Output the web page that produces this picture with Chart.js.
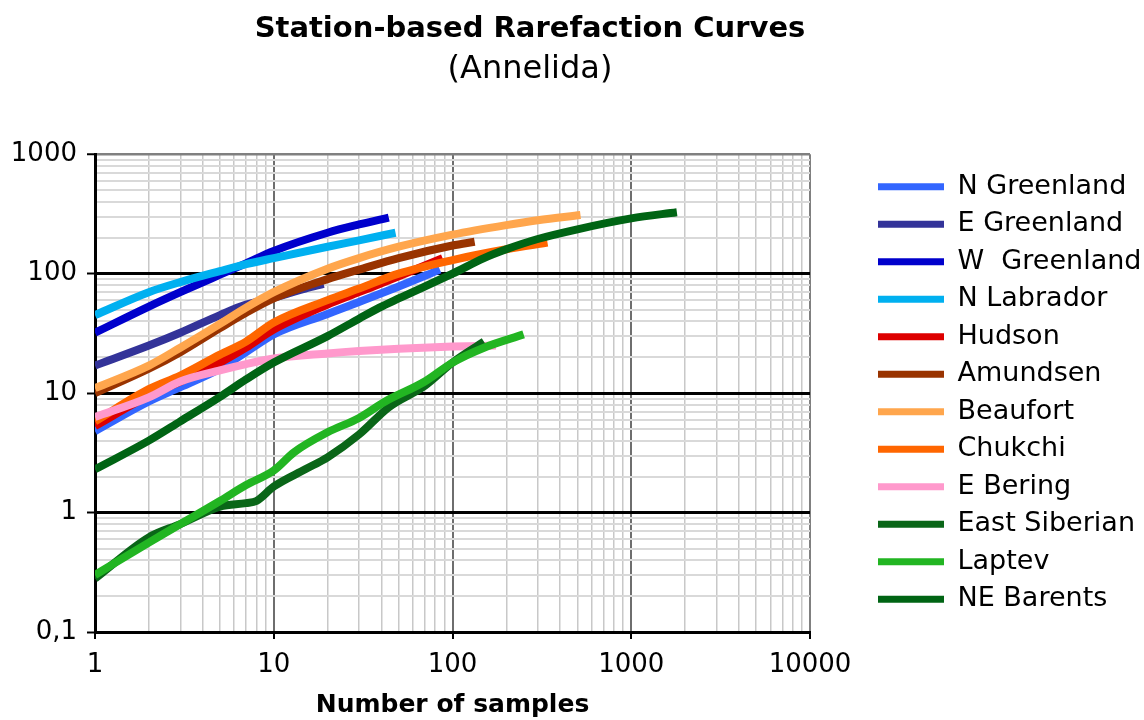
<!DOCTYPE html>
<html>
<head>
<meta charset="utf-8">
<title>Station-based Rarefaction Curves</title>
<script src="https://cdn.jsdelivr.net/npm/chart.js@4/dist/chart.umd.min.js"></script>
<style>
  html, body { margin: 0; padding: 0; background: #fff; }
  canvas { display: block; }
</style>
</head>
<body>
<canvas id="chart" width="1144" height="720"></canvas>
<script>
// series (number of samples -> species)
const nGreenlandX = [1, 2, 3, 5, 7, 10, 20, 30, 50, 85];
const nGreenlandY = [4.8, 8.5, 11.2, 16, 22, 31, 46, 58, 78, 108];
const eGreenlandX = [1, 2, 3, 5, 7, 10, 15, 19];
const eGreenlandY = [17, 25, 32, 45, 55, 63, 75, 82];
const wGreenlandX = [1, 2, 3, 5, 7, 10, 20, 30, 44];
const wGreenlandY = [32, 53, 70, 98, 122, 155, 220, 258, 295];
const nLabradorX = [1, 2, 3, 5, 7, 10, 20, 30, 48];
const nLabradorY = [45, 70, 85, 105, 120, 135, 168, 190, 220];
const hudsonX = [1, 2, 3, 5, 7, 10, 20, 30, 50, 88];
const hudsonY = [5.3, 9.5, 12.5, 18, 24, 34, 55, 70, 95, 135];
const amundsenX = [1, 2, 3, 5, 7, 10, 20, 30, 50, 100, 133];
const amundsenY = [10, 16, 22, 35, 47, 62, 90, 108, 135, 172, 185];
const beaufortX = [1, 2, 3, 5, 7, 10, 20, 30, 50, 100, 200, 300, 520];
const beaufortY = [11, 17, 24, 38, 52, 70, 110, 135, 168, 212, 255, 280, 310];
const chukchiX = [1, 2, 3, 5, 7, 10, 20, 30, 50, 100, 200, 340];
const chukchiY = [5.8, 10.8, 14, 21, 27, 39, 60, 75, 100, 130, 160, 182];
const eBeringX = [1, 2, 3, 5, 7, 10, 20, 30, 50, 100, 175];
const eBeringY = [6.3, 9.2, 12.5, 15.5, 17.5, 19.5, 21.5, 22.5, 23.5, 24.5, 25];
const eastSiberianX = [1, 2, 3, 5, 7, 8, 10, 15, 20, 30, 44, 70, 100, 150];
const eastSiberianY = [0.28, 0.62, 0.8, 1.12, 1.2, 1.25, 1.65, 2.3, 2.9, 4.5, 7.6, 11.5, 18, 27];
const laptevX = [1, 2, 3, 5, 7, 10, 13, 20, 30, 42, 70, 100, 150, 250];
const laptevY = [0.3, 0.56, 0.8, 1.25, 1.7, 2.25, 3.2, 4.7, 6.2, 8.5, 12.5, 18, 24, 31];
const neBarentsX = [1, 2, 3, 5, 7, 10, 20, 30, 39, 50, 100, 150, 200, 300, 500, 1000, 1800];
const neBarentsY = [2.3, 4, 5.8, 9.3, 13, 18, 30, 42, 52, 62, 100, 135, 160, 195, 235, 290, 327];

const seriesNames = ['N Greenland', 'E Greenland', 'W  Greenland', 'N Labrador', 'Hudson', 'Amundsen',
  'Beaufort', 'Chukchi', 'E Bering', 'East Siberian', 'Laptev', 'NE Barents'];
const seriesX = [nGreenlandX, eGreenlandX, wGreenlandX, nLabradorX, hudsonX, amundsenX,
  beaufortX, chukchiX, eBeringX, eastSiberianX, laptevX, neBarentsX];
const seriesY = [nGreenlandY, eGreenlandY, wGreenlandY, nLabradorY, hudsonY, amundsenY,
  beaufortY, chukchiY, eBeringY, eastSiberianY, laptevY, neBarentsY];
const seriesColors = ['#3366FF', '#333399', '#0000CC', '#00B0F0', '#DD0000', '#993300',
  '#FFA64D', '#FF6600', '#FF99CC', '#0A6618', '#22B522', '#006414'];

const xDecades = [1, 10, 100, 1000, 10000];
const yDecades = [0.1, 1, 10, 100, 1000];
const xTickLabels = ['1', '10', '100', '1000', '10000'];
const yTickLabels = ['0,1', '1', '10', '100', '1000'];

// 1..9 in every decade, for the minor grid
function decadeTicks(decades) {
  const out = [];
  decades.forEach((d, i) => {
    if (i === decades.length - 1) { out.push(d); return; }
    for (let k = 1; k < 10; k++) out.push(+(d * k).toPrecision(6));
  });
  return out;
}
const xTicks = decadeTicks(xDecades);
const yTicks = decadeTicks(yDecades);

const isDecade = v => Math.abs(Math.log10(v) - Math.round(Math.log10(v))) < 1e-9;

Chart.defaults.font.family = "'DejaVu Sans', Verdana, sans-serif";
Chart.defaults.color = '#000';

const datasets = seriesNames.map((name, i) => ({
  label: name,
  data: seriesX[i].map((x, j) => ({ x: x, y: seriesY[i][j] })),
  borderColor: seriesColors[i],
  backgroundColor: seriesColors[i],
  borderWidth: 8,
  pointRadius: 0,
  showLine: true,
  cubicInterpolationMode: 'monotone',
  order: -i
}));

// move the legend column to where the boxes sit in the original, and don't clip it
const legendLeft = 867.5;
const legendShift = {
  id: 'legendShift',
  afterLayout(chart) {
    const lg = chart.legend;
    if (!lg) return;
    lg.left = legendLeft;
    lg.right = chart.width;
    lg.width = chart.width - legendLeft;
  }
};

new Chart(document.getElementById('chart'), {
  type: 'scatter',
  data: { datasets: datasets },
  plugins: [legendShift],
  options: {
    responsive: false,
    animation: false,
    devicePixelRatio: 1,
    layout: { padding: { top: 0, right: 84, bottom: 0, left: 0 } },
    plugins: {
      title: {
        display: true,
        text: 'Station-based Rarefaction Curves',
        font: { size: 29, weight: 'bold' },
        padding: { top: 12, bottom: 2 }
      },
      subtitle: {
        display: true,
        text: '(Annelida)',
        font: { size: 32, weight: 'normal' },
        color: '#000',
        padding: { top: 2, bottom: 65 }
      },
      legend: {
        position: 'right',
        fullSize: false,
        maxWidth: 250,
        labels: {
          boxWidth: 66,
          boxHeight: 7,
          padding: 10.5,
          font: { size: 27 },
          sort: (a, b) => a.datasetIndex - b.datasetIndex,
          generateLabels: chart => Chart.defaults.plugins.legend.labels.generateLabels(chart)
            .map(l => Object.assign(l, { lineWidth: 0 }))
        }
      },
      tooltip: { enabled: false }
    },
    scales: {
      x: {
        type: 'logarithmic',
        min: 1,
        max: 10000,
        afterFit: s => { s.height = 88; },
        afterBuildTicks: s => { s.ticks = xTicks.map(v => ({ value: v })); },
        border: { display: true, color: '#000', width: 3 },
        grid: {
          color: c => {
            const v = c.tick && c.tick.value;
            if (v === 10000) return '#808080';
            return isDecade(v) ? '#6e6e6e' : '#c8c8c8';
          },
          lineWidth: c => (c.tick && isDecade(c.tick.value)) ? 2 : 1.5,
          tickColor: c => (c.tick && isDecade(c.tick.value)) ? '#000' : 'rgba(0,0,0,0)',
          tickWidth: 2,
          tickLength: 7
        },
        ticks: {
          autoSkip: false,
          maxRotation: 0,
          padding: 11,
          font: { size: 26 },
          callback: v => isDecade(v) ? xTickLabels[Math.round(Math.log10(v))] : ''
        },
        title: {
          display: true,
          text: 'Number of samples',
          font: { size: 25, weight: 'bold' },
          padding: { top: 0, bottom: 0 }
        }
      },
      y: {
        type: 'logarithmic',
        min: 0.1,
        max: 1000,
        afterFit: s => { s.width = 95; },
        afterBuildTicks: s => { s.ticks = yTicks.map(v => ({ value: v })); },
        border: { display: true, color: '#000', width: 3 },
        grid: {
          color: c => {
            const v = c.tick && c.tick.value;
            if (v === 1000) return '#808080';
            return isDecade(v) ? '#000' : '#d9d9d9';
          },
          lineWidth: c => {
            const v = c.tick && c.tick.value;
            if (v === 1000) return 2.5;
            return isDecade(v) ? 3 : 2;
          },
          tickColor: c => (c.tick && isDecade(c.tick.value)) ? '#000' : 'rgba(0,0,0,0)',
          tickWidth: 2,
          tickLength: 8
        },
        ticks: {
          autoSkip: false,
          padding: 10,
          font: { size: 26 },
          callback: v => isDecade(v) ? yTickLabels[Math.round(Math.log10(v)) + 1] : ''
        }
      }
    }
  }
});
</script>
</body>
</html>
